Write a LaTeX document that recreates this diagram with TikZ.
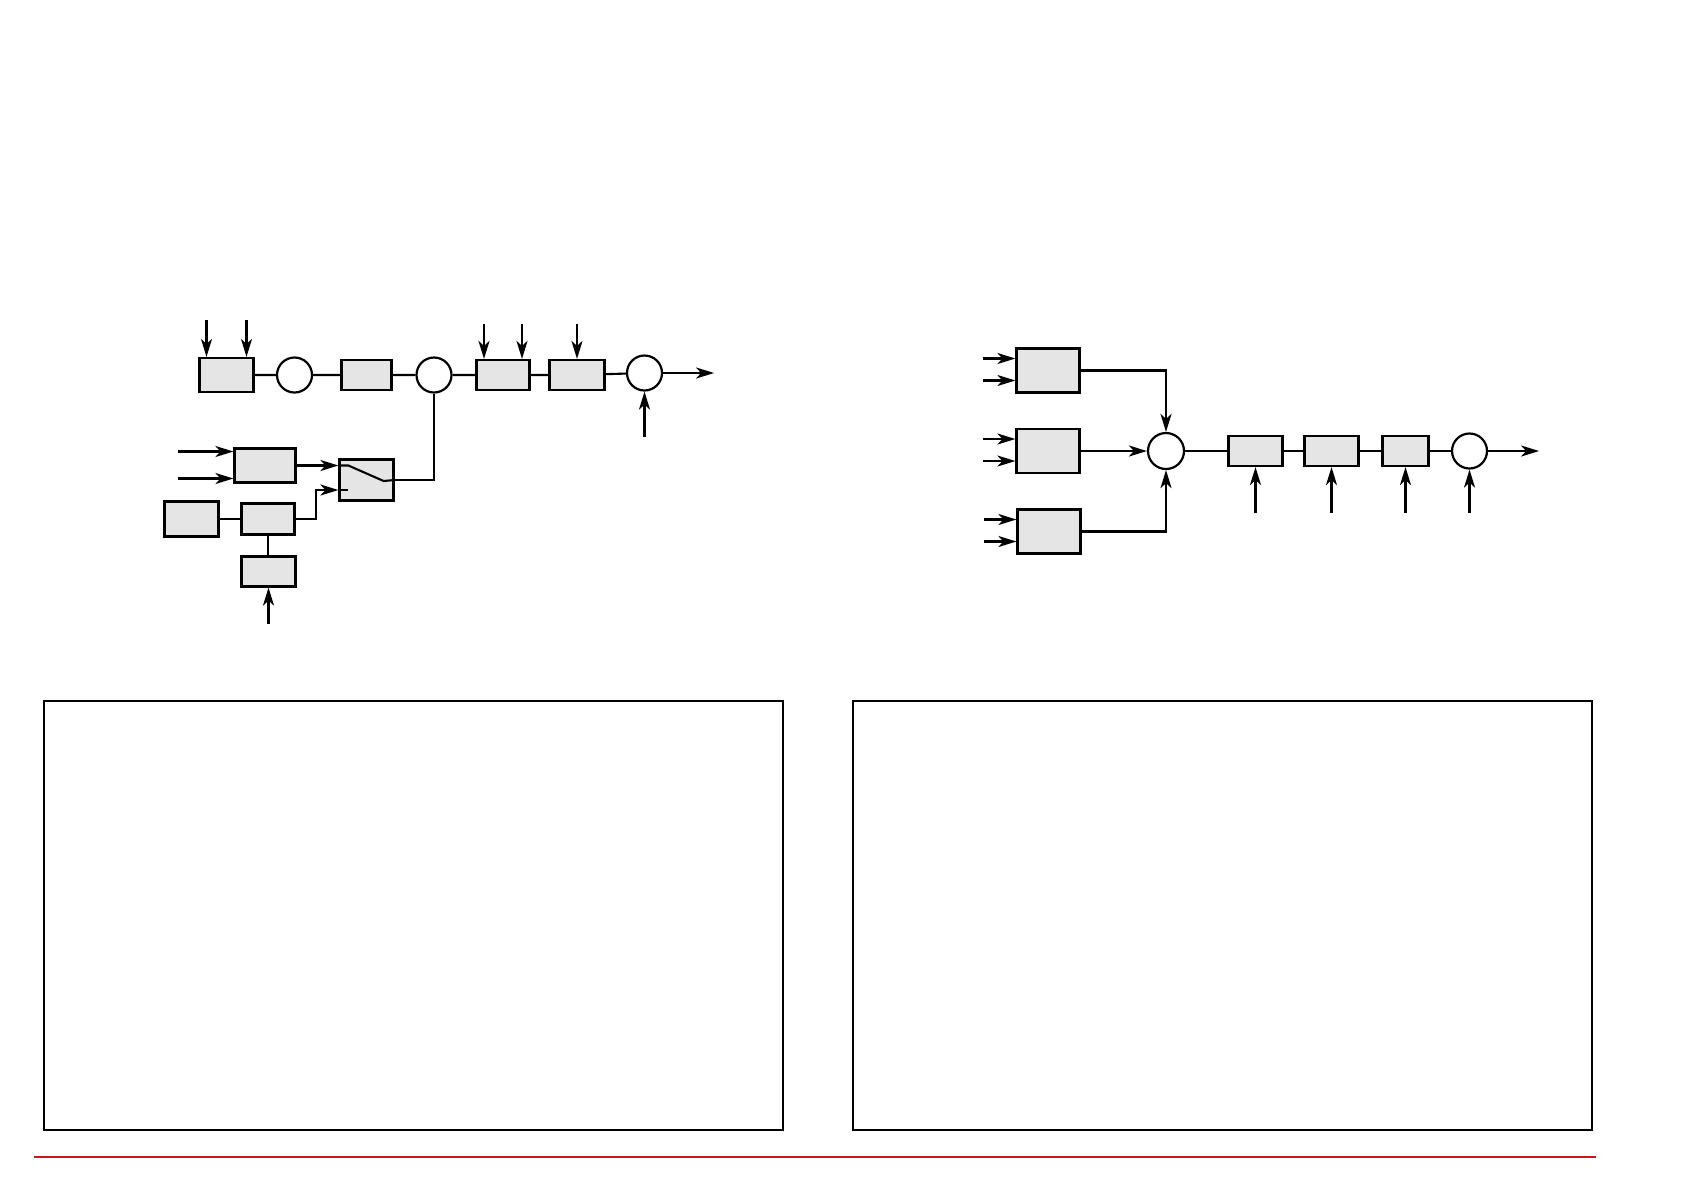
\documentclass[tikz,border=0pt]{standalone}
\usepackage{tikz}
\usetikzlibrary{arrows.meta}
\definecolor{blockgray}{rgb}{0.9, 0.9, 0.9}
\definecolor{rulered}{rgb}{0.82, 0.07, 0.13}
\tikzset{
  blk/.style 2 args={draw, fill=blockgray, line width=1.1pt, inner sep=0pt, minimum width=#1, minimum height=#2},
  sum/.style={circle, draw, fill=white, line width=1.1pt, inner sep=0pt, minimum size=17.5pt},
  frame/.style={line width=1.1pt},
}

\begin{document}
\begin{tikzpicture}[x=0.5pt,y=-0.5pt,line width=1.05pt,>={Stealth[length=9pt,width=5.5pt,inset=2.5pt]}]
\useasboundingbox (0,0) rectangle (1684,1190);

% left diagram, main line
\node[blk={27pt}{17pt}] (A) at (226.5,375) {};
\node[sum] (c1) at (294.5,375) {};
\node[blk={25pt}{15pt}] (B) at (366.5,375) {};
\node[sum] (c2) at (434,375) {};
\node[blk={26.5pt}{15pt}] (C) at (503,375) {};
\node[blk={27.5pt}{15pt}] (D) at (577,375) {};
\node[sum] (c3) at (644.5,373) {};
\draw (A) -- (c1) -- (B) -- (c2) -- (C) -- (D) -- (c3);
\draw[->] (c3.east) -- ++(51,0);
\draw[<-] (c3.south) -- ++(0,45);
\foreach \s in {-10,10} {
  \draw[<-] ([xshift=\s pt]A.north) -- ++(0,-37);
}
\foreach \s in {-9.5,9.5} {
  \draw[<-] ([xshift=\s pt]C.north) -- ++(0,-35);
}
\draw[<-] (D.north) -- ++(0,-35);

% left diagram, lower part
\node[blk={30.5pt}{17pt}] (E) at (265,465.5) {};
\node[blk={27pt}{20.5pt}] (SW) at (366.5,480) {};
\node[blk={27pt}{17.5pt}] (F) at (191.5,519) {};
\node[blk={26.5pt}{15.5pt}] (G) at (268,519) {};
\node[blk={27pt}{15pt}] (H) at (268.5,571.5) {};
\foreach \s in {7,-6.5} {
  \draw[<-] ([yshift=\s pt]E.west) -- ++(-55,0);
}
\draw[->] (E.east) -- (E.east -| SW.west);
\coordinate (in2) at ([yshift=-5pt]SW.west);
\draw (E.east -| SW.west) -- ++(10,0) -- ([xshift=-5.5pt,yshift=-0.5pt]SW.east) -- (SW.east);
\draw (in2) -- ++(10,0);
\draw[->] (G.east) -- (G.east -| 316,0) |- (in2);
\draw (F) -- (G);
\draw (G.south) -- (G.south |- H.north);
\draw[<-] (H.south) -- ++(0,36);
\draw (SW.east) -| (c2.south);

% right diagram
\node[blk={31.5pt}{22pt}] (R1) at (1048,370.5) {};
\node[blk={31.5pt}{22pt}] (R2) at (1048,451) {};
\node[blk={31.5pt}{22pt}] (R3) at (1049,531.5) {};
\node[sum,minimum size=18pt] (S) at (1166,451) {};
\node[blk={27pt}{15pt}] (R4) at (1255.5,451) {};
\node[blk={27pt}{15pt}] (R5) at (1331.5,451) {};
\node[blk={23pt}{15pt}] (R6) at (1405.5,451) {};
\node[sum] (c4) at (1469.5,451) {};
\foreach \b in {R1,R2,R3} {
  \draw[<-] ([yshift=6pt]\b.west) -- ++(-32,0);
  \draw[<-] ([yshift=-5pt]\b.west) -- ++(-32,0);
}
\draw[->] (R1.east) -| (S.north);
\draw[->] (R2) -- (S);
\draw[->] (R3.east) -| (S.south);
\draw (S) -- (R4) -- (R5) -- (R6) -- (c4);
\draw[->] (c4.east) -- ++(51,0);
\foreach \n in {R4,R5,R6,c4} {
  \draw[<-] (\n.south) -- (\n.south |- 0,513);
}

% frames and rule
\draw[frame] (44,701) rectangle (783,1130);
\draw[frame] (853,701) rectangle (1592,1130);
\draw[rulered,line width=1.1pt] (34,1157) -- (1596,1157);
\end{tikzpicture}
\end{document}
